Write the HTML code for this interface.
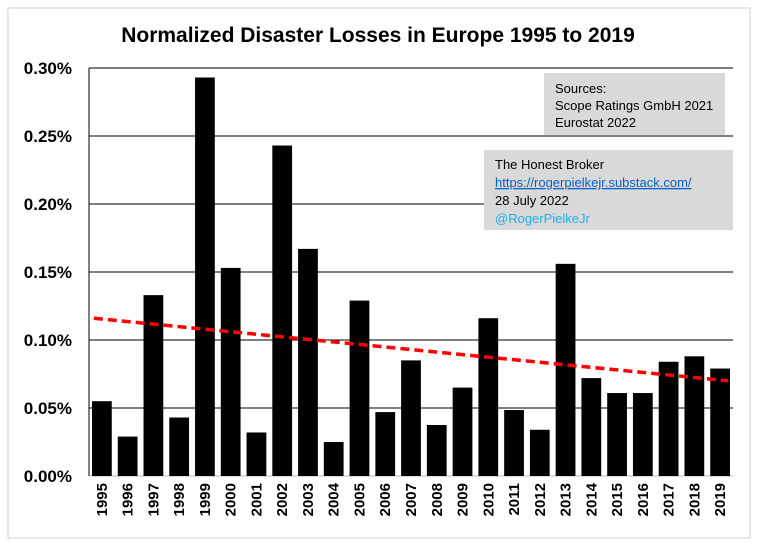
<!DOCTYPE html>
<html><head><meta charset="utf-8"><style>
body{margin:0;background:#fff;}
svg text{font-family:"Liberation Sans",sans-serif;}
</style></head><body>
<svg width="758" height="547">
<rect x="8" y="8" width="742" height="530" fill="#fff" stroke="#d0d0d0"/>
<text x="378" y="42" text-anchor="middle" font-size="21" font-weight="bold">Normalized Disaster Losses in Europe 1995 to 2019</text>
<g id="grid"></g><g id="bars"></g><g id="labels"></g>
<rect x="544" y="73" width="181" height="62" fill="#d9d9d9"/>
<text x="555" y="93" font-size="13"><tspan x="555">Sources:</tspan><tspan x="555" dy="17">Scope Ratings GmbH 2021</tspan><tspan x="555" dy="17">Eurostat 2022</tspan></text>
<rect x="484" y="150" width="249" height="80" fill="#d9d9d9"/>
<text x="495" y="169" font-size="13">The Honest Broker</text>
<text x="495" y="187" font-size="13" fill="#0563c1" text-decoration="underline">https://rogerpielkejr.substack.com/</text>
<text x="495" y="205" font-size="13">28 July 2022</text>
<text x="495" y="223" font-size="13" fill="#1fb0e8">@RogerPielkeJr</text>
</svg>
<script>
const years=['1995','1996','1997','1998','1999','2000','2001','2002','2003','2004','2005','2006','2007','2008','2009','2010','2011','2012','2013','2014','2015','2016','2017','2018','2019'];
const losses=[0.055,0.029,0.133,0.043,0.293,0.153,0.032,0.243,0.167,0.025,0.129,0.047,0.085,0.0375,0.065,0.116,0.0485,0.034,0.156,0.072,0.061,0.061,0.084,0.088,0.079];
const trendEnds=[0.116,0.070];
const yTicks=[0,0.05,0.10,0.15,0.20,0.25,0.30];
const NS='http://www.w3.org/2000/svg';
const L=89,R=733,B=476,T=68,slot=(R-L)/years.length;
const y=v=>B-(v/0.30)*(B-T);
const x=i=>L+slot*i;
function mk(t,a,p){const e=document.createElementNS(NS,t);for(const k in a)e.setAttribute(k,a[k]);p.appendChild(e);return e;}
const g=document.getElementById('grid'),bg=document.getElementById('bars'),lg=document.getElementById('labels');
yTicks.forEach(v=>{
 const l=mk('line',{x1:L,x2:R,y1:y(v),y2:y(v),stroke:v===0?'#bbb':'#000','stroke-width':1},g);
 
 
 const t=mk('text',{x:72,y:y(v)+6,'text-anchor':'end','font-size':17,'font-weight':'bold'},lg);
 t.textContent=v.toFixed(2)+'%';
 
 
});
const ax=mk('line',{x1:L,x2:L,y1:T,y2:B,stroke:'#000'},g);


losses.forEach((v,i)=>{
 const r=mk('rect',{x:x(i)+3,y:y(v),width:slot-6,height:B-y(v),fill:'#000'},bg);
 
 
 const cx=x(i)+slot/2;
 const t=mk('text',{x:0,y:0,'font-size':15,'font-weight':'bold','text-anchor':'end',transform:`translate(${cx+5},483) rotate(-90)`},lg);
 t.textContent=years[i];
 
 
});
const tl=mk('line',{x1:x(0)+slot/2-8,y1:y(trendEnds[0]),x2:x(years.length-1)+slot/2+8,y2:y(trendEnds[1]),stroke:'#f00','stroke-width':3.5,'stroke-dasharray':'9,5'},bg);


</script>
</body></html>
